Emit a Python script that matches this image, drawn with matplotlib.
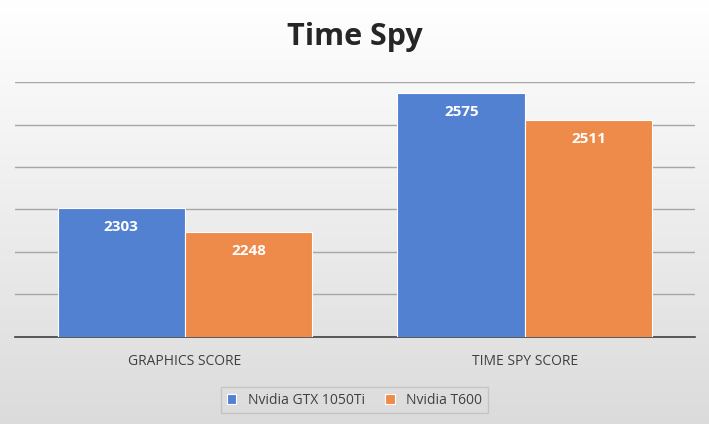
import numpy as np
import matplotlib
matplotlib.use('agg')
import matplotlib.pyplot as plt

categories = ['GRAPHICS SCORE', 'TIME SPY SCORE']
series_names = ['Nvidia GTX 1050Ti', 'Nvidia T600']
gtx_1050ti = [2303, 2575]
t600 = [2248, 2511]
colors = ['#5381D2', '#EE8B4A']

fig = plt.figure(figsize=(7.09, 4.24), dpi=100)

# gradient background
bg = fig.add_axes([0, 0, 1, 1], zorder=-10)
grad = np.linspace(1.0, 0.86, 256).reshape(-1, 1)
bg.imshow(np.dstack([grad, grad, grad]), aspect='auto', extent=[0, 1, 0, 1])
bg.axis('off')

ax = fig.add_axes([15 / 709, 1 - 337 / 424, 680 / 709, 255 / 424])
ax.patch.set_alpha(0)
x = np.arange(len(categories))
w = 0.375
for i, (vals, name) in enumerate(zip([gtx_1050ti, t600], series_names)):
    pos = x + (i - 0.5) * w
    bars = ax.bar(pos, vals, w, color=colors[i], label=name,
                  edgecolor='white', linewidth=0.8, zorder=3)
    for b, v in zip(bars, vals):
        ax.text(b.get_x() + b.get_width() / 2, v - 45, str(v), ha='center', va='center',
                color='white', fontsize=11, fontweight='bold', family='Open Sans', zorder=4)

ax.set_ylim(2000, 2600)
ax.set_xlim(-0.5, 1.5)
ax.set_yticks(range(2000, 2601, 100))
ax.set_yticklabels([])
ax.tick_params(axis='y', length=0)
ax.tick_params(axis='x', length=0, pad=12)
ax.set_xticks(x)
ax.set_xticklabels(categories, fontsize=10, color='#404040', family='Open Sans')
ax.grid(axis='y', color='#a6a6a6', linewidth=1, zorder=0)
for s in ['top', 'right', 'left']:
    ax.spines[s].set_visible(False)
ax.spines['bottom'].set_color('#404040')
ax.spines['bottom'].set_linewidth(1.2)

fig.text(0.5, 1 - 37 / 424, 'Time Spy', ha='center', va='center',
         fontsize=22, fontweight='bold', color='#262626', family='Open Sans')

leg = fig.legend(loc='center', bbox_to_anchor=(0.5, 1 - 400 / 424), ncol=2,
                 frameon=True, fontsize=10, handlelength=0.7, handleheight=0.7,
                 columnspacing=1.5, fancybox=False, edgecolor='#bfbfbf',
                 prop={'family': 'Open Sans', 'size': 10})
leg.get_frame().set_facecolor('none')
for t in leg.get_texts():
    t.set_color('#404040')

fig.savefig('out.png', dpi=100)
